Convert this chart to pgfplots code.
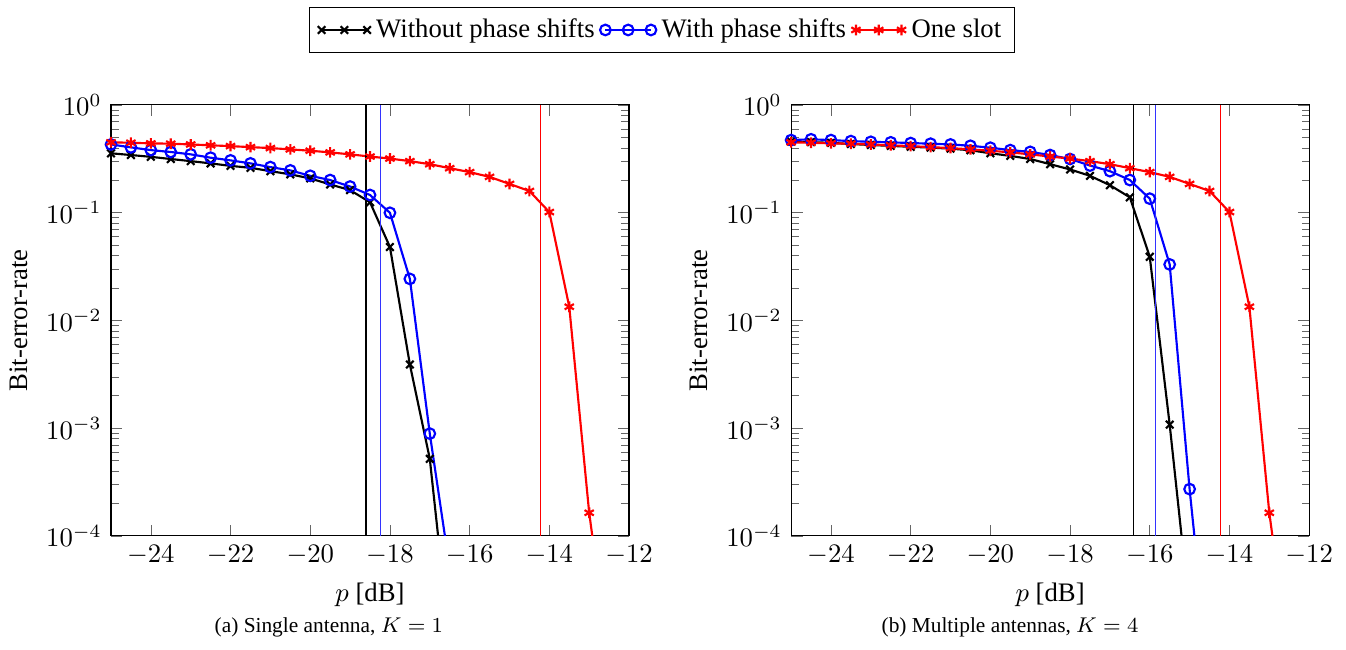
\documentclass[border=0pt]{standalone}
\usepackage{pgfplots}
\pgfplotsset{compat=1.18}
\usepackage{pgfplotstable}
\usepackage{fontspec}
\setmainfont{Liberation Serif}

\pgfplotstableread{
x y
-25 0.356
-24.5 0.343
-24 0.330
-23.5 0.315
-23 0.301
-22.5 0.287
-22 0.272
-21.5 0.261
-21 0.243
-20.5 0.227
-20 0.208
-19.5 0.183
-19 0.162
-18.5 0.125
-18 0.048
-17.5 0.0039
-17 5.2e-4
-16.5 1e-5
}\blackA
\pgfplotstableread{
x y
-25 0.430
-24.5 0.404
-24 0.381
-23.5 0.366
-23 0.348
-22.5 0.324
-22 0.306
-21.5 0.287
-21 0.265
-20.5 0.247
-20 0.220
-19.5 0.201
-19 0.175
-18.5 0.146
-18 0.0998
-17.5 0.0243
-17 8.9e-4
-16.5 5e-5
}\blueA
\pgfplotstableread{
x y
-25 0.450
-24.5 0.446
-24 0.440
-23.5 0.437
-23 0.430
-22.5 0.422
-22 0.415
-21.5 0.406
-21 0.398
-20.5 0.387
-20 0.376
-19.5 0.363
-19 0.348
-18.5 0.332
-18 0.318
-17.5 0.301
-17 0.282
-16.5 0.259
-16 0.238
-15.5 0.215
-15 0.185
-14.5 0.159
-14 0.1014
-13.5 0.0134
-13 1.64e-4
-12.5 7e-6
}\redA
\pgfplotstableread{
x y
-25 0.458
-24.5 0.452
-24 0.445
-23.5 0.434
-23 0.425
-22.5 0.417
-22 0.409
-21.5 0.402
-21 0.393
-20.5 0.380
-20 0.356
-19.5 0.337
-19 0.315
-18.5 0.282
-18 0.252
-17.5 0.220
-17 0.180
-16.5 0.139
-16 0.039
-15.5 1.08e-3
-15 2e-5
}\blackB
\pgfplotstableread{
x y
-25 0.472
-24.5 0.480
-24 0.472
-23.5 0.462
-23 0.455
-22.5 0.450
-22 0.443
-21.5 0.437
-21 0.430
-20.5 0.418
-20 0.401
-19.5 0.381
-19 0.367
-18.5 0.343
-18 0.315
-17.5 0.274
-17 0.243
-16.5 0.201
-16 0.135
-15.5 0.0331
-15 2.72e-4
-14.5 4.3e-6
}\blueB

\pgfplotsset{
  myaxis/.style={
    scale only axis,
    width=194pt, height=161.4pt,
    xmin=-25, xmax=-12,
    ymin=1e-4, ymax=1,
    xtick={-24,-22,...,-12},
    xlabel={$p$ [dB]},
    ylabel={Bit-error-rate},
    major tick style={black!60},
    minor tick style={black!60},
  },
  bl/.style={black, thick, mark=x, mark options={solid}},
  bu/.style={blue, thick, mark=o, mark options={solid}},
  rd/.style={red, thick, mark=asterisk, mark options={solid}},
}

\begin{document}
\begin{tikzpicture}
\path[use as bounding box] (-41.57pt,-42.7pt) rectangle (462.5pt,200.7pt);
\begin{semilogyaxis}[myaxis, at={(0pt,0pt)},
  legend style={at={(1.064,1.174)}, anchor=center, legend columns=3, font=\normalsize},
  ]
\addplot[bl, mark indices={1,...,17}] table {\blackA};
\addlegendentry{Without phase shifts}
\addplot[bu, mark indices={1,...,17}] table {\blueA};
\addlegendentry{With phase shifts}
\addplot[rd, mark indices={1,...,25}] table {\redA};
\addlegendentry{One slot}
\addplot[black, line width=0.45pt, forget plot] coordinates {(-18.6,1e-4) (-18.6,1)};
\addplot[blue!80, line width=0.45pt, forget plot] coordinates {(-18.23,1e-4) (-18.23,1)};
\addplot[red, line width=0.45pt, forget plot] coordinates {(-14.23,1e-4) (-14.23,1)};
\end{semilogyaxis}
\begin{semilogyaxis}[myaxis, at={(254.7pt,0pt)}]
\addplot[bl, mark indices={1,...,20}] table {\blackB};
\addplot[bu, mark indices={1,...,21}] table {\blueB};
\addplot[rd, mark indices={1,...,25}] table {\redA};
\addplot[black, line width=0.45pt, forget plot] coordinates {(-16.41,1e-4) (-16.41,1)};
\addplot[blue!80, line width=0.45pt, forget plot] coordinates {(-15.86,1e-4) (-15.86,1)};
\addplot[red, line width=0.45pt, forget plot] coordinates {(-14.23,1e-4) (-14.23,1)};
\end{semilogyaxis}
\node[font=\footnotesize] at (81.6pt,-34.1pt) {(a) Single antenna, $K=1$};
\node[font=\footnotesize] at (336.7pt,-34.1pt) {(b) Multiple antennas, $K=4$};
\end{tikzpicture}
\end{document}
